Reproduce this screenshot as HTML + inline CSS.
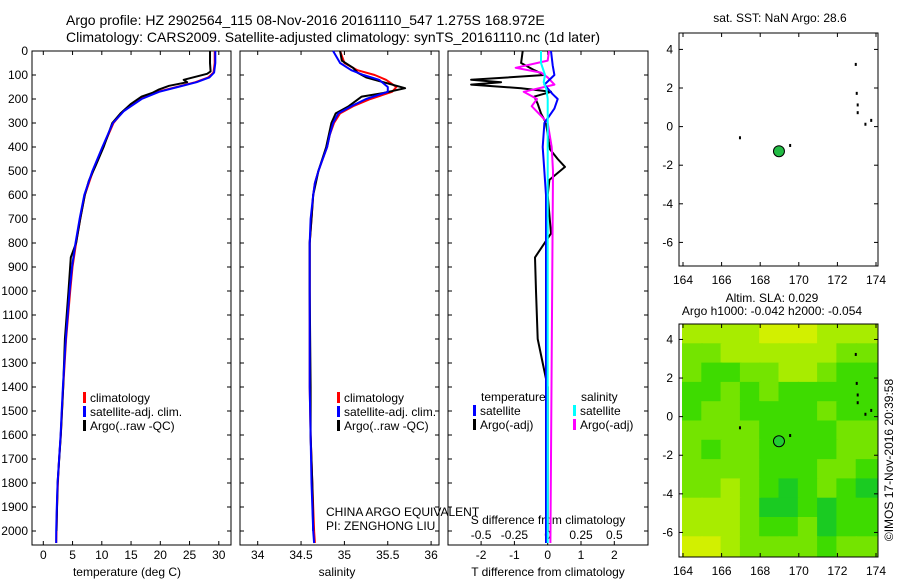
<!DOCTYPE html>
<html><head><meta charset="utf-8">
<style>
html,body{margin:0;padding:0;background:#fff;}
svg{display:block;font-family:"Liberation Sans",sans-serif;}
</style></head>
<body>
<svg id="fig" width="900" height="580" viewBox="0 0 900 580" xmlns="http://www.w3.org/2000/svg">
<text x="66" y="25" font-size="14">Argo profile: HZ 2902564_115 08-Nov-2016 20161110_547 1.275S 168.972E</text>
<text x="66" y="42" font-size="14">Climatology: CARS2009. Satellite-adjusted climatology: synTS_20161110.nc (1d later)</text>
<text x="127" y="576" font-size="12" text-anchor="middle">temperature (deg C)</text>
<text x="337" y="576" font-size="12" text-anchor="middle">salinity</text>
<text x="548" y="576" font-size="12" text-anchor="middle">T difference from climatology</text>
<text x="548" y="524" font-size="12" text-anchor="middle">S difference from climatology</text>
<text x="326" y="516" font-size="12">CHINA ARGO EQUIVALENT</text>
<text x="326" y="530" font-size="12">PI: ZENGHONG LIU</text>
<text x="780" y="22" font-size="12" text-anchor="middle">sat. SST: NaN Argo: 28.6</text>
<text x="772" y="302" font-size="12" text-anchor="middle">Altim. SLA: 0.029</text>
<text x="772" y="315" font-size="12" text-anchor="middle">Argo h1000: -0.042 h2000: -0.054</text>
<text transform="translate(893,460) rotate(-90)" font-size="12" text-anchor="middle">©IMOS 17-Nov-2016 20:39:58</text>
</svg>
<script>
// ---- data ----
const depthTicks=[0,100,200,300,400,500,600,700,800,900,1000,1100,1200,1300,1400,1500,1600,1700,1800,1900,2000];
const tTicks=[0,5,10,15,20,25,30];
const sTicks=[34,34.5,35,35.5,36];
const sTickLabels=["34","34.5","35","35.5","36"];
const dTTicks=[-2,-1,0,1,2];
const dSTicks=[-0.5,-0.25,0,0.25,0.5];
const dSTickLabels=["-0.5","-0.25","0","0.25","0.5"];
const tClimDepth=[0,50,90,110,130,150,170,200,250,300,400,500,600,700,800,900,1000,1200,1400,1500,1600,1700,1800,1900,2000,2050];
const tClim=[29.3,29.3,29.1,28.2,26.0,22.8,19.5,16.5,13.7,12.0,10.2,8.5,7.1,6.3,5.6,5.0,4.6,3.9,3.4,3.2,3.0,2.7,2.5,2.35,2.25,2.2];
const tSat=[29.4,29.4,29.2,28.4,26.2,23.0,19.8,16.8,13.8,11.9,10.1,8.4,7.0,6.2,5.5,4.9,4.5,3.85,3.35,3.15,2.95,2.7,2.45,2.3,2.2,2.2];
const tArgoDepth=[0,50,85,95,120,130,145,160,175,190,220,260,300,400,480,540,600,700,800,860,1000,1200,1400,1600,1800,2000];
const tArgo=[28.5,28.5,28.6,28.0,24.0,24.6,21.5,19.8,18.6,16.8,15.0,13.2,11.8,10.3,8.9,7.8,7.1,6.3,5.6,4.7,4.3,3.7,3.4,3.0,2.45,2.25];
const sClimDepth=[0,50,80,100,120,150,170,200,230,260,300,350,400,450,500,550,600,700,800,1000,1400,1600,1800,2000,2050];
const sClim=[34.95,35.0,35.15,35.35,35.48,35.6,35.55,35.3,35.1,34.95,34.88,34.83,34.8,34.75,34.7,34.66,34.64,34.62,34.6,34.6,34.6,34.61,34.63,34.65,34.66];
const sSat=[34.87,34.95,35.08,35.22,35.4,35.5,35.5,35.25,35.08,34.93,34.87,34.83,34.8,34.75,34.7,34.66,34.64,34.61,34.6,34.6,34.6,34.61,34.62,34.64,34.65];
const sArgoDepth=[0,40,70,90,110,130,155,175,190,230,260,300,350,400,500,600,800,1000,1400,1600,1800,2000];
const sArgo=[34.95,34.97,35.1,35.15,35.25,35.45,35.7,35.45,35.2,35.05,34.9,34.85,34.82,34.79,34.7,34.64,34.6,34.6,34.61,34.61,34.63,34.64];
const dTArgoDepth=[0,50,80,100,120,130,140,155,170,190,220,260,300,410,450,483,537,600,760,860,1000,1200,1300,1400,2000];
const dTArgo=[-0.75,-0.8,-0.4,-0.1,-2.3,-1.4,-2.3,-0.8,0.1,-0.4,-0.3,-0.2,-0.05,0.07,0.3,0.52,0.05,0.0,0.1,-0.38,-0.35,-0.3,-0.15,0.0,0.0];
const dTSatDepth=[0,60,100,140,180,200,240,300,400,600,1000,2050];
const dTSat=[0.1,0.15,0.2,-0.1,0.15,0.3,0.2,-0.1,-0.15,-0.05,-0.05,-0.05];
const dSArgoDepth=[0,40,70,90,110,140,170,200,230,270,300,400,500,2050];
const dSArgo=[0.01,0.0,-0.24,-0.05,0.0,0.05,-0.18,-0.08,-0.12,-0.05,0.0,0.03,0.04,0.02];
const dSSatDepth=[0,50,100,130,160,200,260,2050];
const dSSat=[-0.05,-0.05,-0.02,-0.03,-0.01,0.0,0.0,0.0];
const lonTicks=[164,166,168,170,172,174];
const latTicks=[4,2,0,-2,-4,-6];
const argoLon=168.972, argoLat=-1.275;
const slaLevels=[
[1,1,1,1,0,0,0,1,1,1],
[2,2,1,1,1,1,1,1,2,2],
[2,3,3,2,2,1,1,2,3,3],
[3,3,2,3,2,3,3,3,3,3],
[3,2,2,3,3,3,3,2,3,3],
[2,2,2,2,3,3,3,3,2,2],
[2,3,2,2,3,3,3,3,2,2],
[2,2,2,2,3,3,3,2,2,3],
[2,2,1,2,3,4,3,2,3,4],
[1,1,1,2,4,4,3,4,3,3],
[1,1,1,2,3,3,2,4,3,3],
[0,0,1,2,2,2,2,3,2,2]];
const slaColors=["#d2f000","#a8ec00","#74e400","#3edb00","#1acb22"];

// ---- drawing ----
const NS="http://www.w3.org/2000/svg";
const svg=document.getElementById('fig');
function mk(tag,attrs,parent){const e=document.createElementNS(NS,tag);for(const k in attrs)e.setAttribute(k,attrs[k]);(parent||svg).appendChild(e);return e;}
const top0=51, bot=545;
const yD=d=>top0+d*0.24;
function panel(name,x0,x1){
  const g=mk('g',{});
  
  
  const r=mk('rect',{x:x0,y:top0,width:x1-x0,height:bot-top0,fill:'none',stroke:'#000','stroke-width':1},g);
  
  
  depthTicks.forEach(d=>{mk('line',{x1:x0,x2:x0+4,y1:yD(d),y2:yD(d),stroke:'#000'},g);mk('line',{x1:x1,x2:x1-4,y1:yD(d),y2:yD(d),stroke:'#000'},g);});
  return g;
}
function line(g,xs,ds,xf,color,name,w){
  const pts=xs.map((v,i)=>xf(v).toFixed(1)+','+yD(ds[i]).toFixed(1)).join(' ');
  const p=mk('polyline',{points:pts,fill:'none',stroke:color,'stroke-width':w||2,'stroke-linejoin':'round'},g);
  
  
}
function xticks(g,ticks,labels,xf,ylab){
  ticks.forEach((t,i)=>{const x=xf(t);mk('line',{x1:x,x2:x,y1:bot,y2:bot-4,stroke:'#000'},g);mk('line',{x1:x,x2:x,y1:top0,y2:top0+4,stroke:'#000'},g);
    const tx=mk('text',{x:x,y:ylab,'font-size':12,'text-anchor':'middle'},g);tx.textContent=labels[i];
    
    });
}
function legend(g,x,y,items){
  items.forEach((it,i)=>{mk('rect',{x:x,y:y+i*14-10,width:3,height:11,fill:it[1]},g);
    const t=mk('text',{x:x+7,y:y+i*14,'font-size':12},g);t.textContent=it[0];
    
    });
}
// y labels
depthTicks.forEach(d=>{const t=mk('text',{x:28,y:yD(d)+4,'font-size':12,'text-anchor':'end'});t.textContent=d;
  
  });
// panel 1
const xT=v=>43.3+v*5.85;
const p1=panel('temperature-panel',32,231);
xticks(p1,tTicks,tTicks.map(String),xT,559);
line(p1,tClim,tClimDepth,xT,'#ff0000','temperature-climatology-line');
line(p1,tArgo,tArgoDepth,xT,'#000000','temperature-argo-line');
line(p1,tSat,tClimDepth,xT,'#0000ff','temperature-satellite-line');
legend(p1,83,402,[['climatology','#f00'],['satellite-adj. clim.','#00f'],['Argo(..raw -QC)','#000']]);
// panel 2
const xS=v=>257.7+(v-34)*86.7;
const p2=panel('salinity-panel',240,439);
xticks(p2,sTicks,sTickLabels,xS,559);
line(p2,sClim,sClimDepth,xS,'#ff0000','salinity-climatology-line');
line(p2,sArgo,sArgoDepth,xS,'#000000','salinity-argo-line');
line(p2,sSat,sClimDepth,xS,'#0000ff','salinity-satellite-line');
legend(p2,337,402,[['climatology','#f00'],['satellite-adj. clim.','#00f'],['Argo(..raw -QC)','#000']]);
// panel 3
const xdT=v=>547.7+v*33.3;
const xdS=v=>547.7+v*133.2;
const p3=panel('difference-panel',448,648);
xticks(p3,dTTicks,dTTicks.map(String),xdT,559);
dSTicks.forEach((t,i)=>{const tx=mk('text',{x:xdS(t),y:539,'font-size':12,'text-anchor':'middle'},p3);tx.textContent=dSTickLabels[i];
  
  });
line(p3,dTArgo,dTArgoDepth,xdT,'#000000','t-diff-argo-line');
line(p3,dSArgo,dSArgoDepth,xdS,'#ff00ff','s-diff-argo-line');
line(p3,dTSat,dTSatDepth,xdT,'#0000ff','t-diff-satellite-line');
line(p3,dSSat,dSSatDepth,xdS,'#00ffff','s-diff-satellite-line');
const lt=mk('text',{x:481,y:401,'font-size':12},p3);lt.textContent='temperature';
const ls=mk('text',{x:581,y:401,'font-size':12},p3);ls.textContent='salinity';
legend(p3,473,415,[['satellite','#00f'],['Argo(-adj)','#000']]);
legend(p3,573,415,[['satellite','#0ff'],['Argo(-adj)','#f0f']]);
// maps
function map(name,y0,y1,latTop,heat){
  const x0=679,x1=878;
  const lonX=v=>683+(v-164)*19.3;
  const latY=v=>y0+ (latTop-v)*19.3;
  const g=mk('g',{});
  
  
  if(heat){
    const cw=19.3,ch=19.3;
    slaLevels.forEach((row,r)=>row.forEach((lv,c)=>{
      const lonL=164+c, latT=4.8-r;
      const xa=Math.max(x0,lonX(lonL)-1), xb=Math.min(x1,lonX(lonL+1)+ (c==row.length-1?10:0));
      const ya=Math.max(y0,latY(latT+(r==0?1:0))), yb=Math.min(y1,latY(latT-1)+(r==slaLevels.length-1?10:0));
      const rc=mk('rect',{x:xa,y:ya,width:Math.max(0,xb-xa+0.5),height:Math.max(0,yb-ya+0.5),fill:slaColors[lv]},g);
      
      
    }));
  }
  mk('rect',{x:x0,y:y0,width:x1-x0,height:y1-y0,fill:'none',stroke:'#000'},g);
  lonTicks.forEach(l=>{const x=lonX(l);mk('line',{x1:x,x2:x,y1:y1,y2:y1-4,stroke:'#000'},g);mk('line',{x1:x,x2:x,y1:y0,y2:y0+4,stroke:'#000'},g);
    const t=mk('text',{x:x,y:y1+18,'font-size':12,'text-anchor':'middle'},g);t.textContent=l;
    
    });
  latTicks.forEach(l=>{const y=latY(l);mk('line',{x1:x0,x2:x0+4,y1:y,y2:y,stroke:'#000'},g);mk('line',{x1:x1,x2:x1-4,y1:y,y2:y,stroke:'#000'},g);
    const t=mk('text',{x:x0-6,y:y+4,'font-size':12,'text-anchor':'end'},g);t.textContent=l;
    
    });
  // islands
  [[172.9,3.3],[172.95,1.8],[173.0,1.2],[173.0,0.8],[173.4,0.2],[173.7,0.4],[166.9,-0.5],[169.5,-0.9]].forEach(p=>mk('rect',{x:lonX(p[0]),y:latY(p[1]),width:2,height:3,fill:'#000'},g));
  const c=mk('circle',{cx:lonX(argoLon),cy:latY(argoLat),r:5.5,fill:heat?'#22cc33':'#22bb44',stroke:'#000','stroke-width':1},g);
  
  
}
map('sst-map',33,266,4.85,false);
map('sla-map',324,557,4.8,true);
</script>
</body></html>
